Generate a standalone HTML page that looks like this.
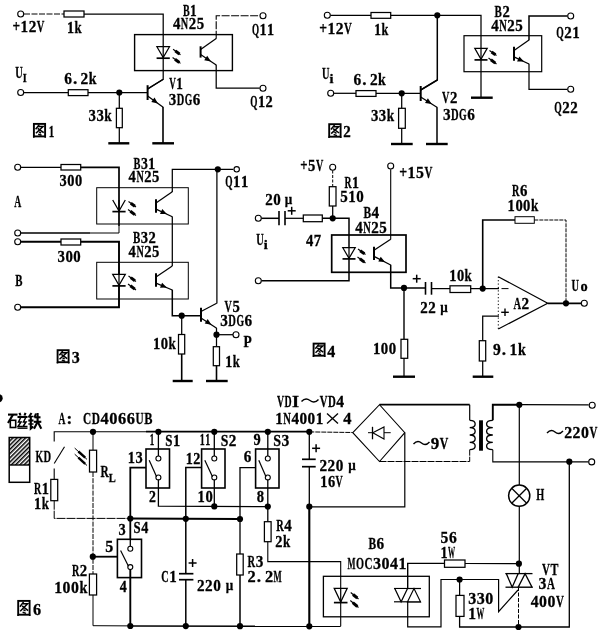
<!DOCTYPE html>
<html><head><meta charset="utf-8"><title>circuit</title>
<style>
html,body{margin:0;padding:0;background:#fff;}
svg{display:block;will-change:transform;}
text{font-family:"Liberation Serif", serif;fill:#000;stroke:#000;stroke-width:0.3px;}
</style></head><body>
<svg width="600" height="635" viewBox="0 0 600 635">
<rect width="600" height="635" fill="#fff"/>
<circle cx="20.7" cy="14.0" r="3.0" fill="#fff" stroke="#000" stroke-width="1.1"/>
<polyline points="24.0,14.0 64.0,14.0" fill="none" stroke="#000" stroke-width="1.0" stroke-dasharray="6 1.5"/>
<polyline points="84.0,14.0 163.2,14.0 163.2,79.3 147.6,88.8" fill="none" stroke="#000" stroke-width="1.25" />
<rect x="64.0" y="11.0" width="20.0" height="6.0" fill="#fff" stroke="#000" stroke-width="1.25"/>
<rect x="134.6" y="34.6" width="97.8" height="36.0" fill="none" stroke="#000" stroke-width="1.4"/>
<polygon points="156.9,46.7 169.5,46.7 163.2,57.6" fill="#fff" stroke="#000" stroke-width="1.25"/>
<polyline points="163.2,46.7 163.2,57.6" fill="none" stroke="#000" stroke-width="1.25" />
<polyline points="156.6,58.2 169.8,58.2" fill="none" stroke="#000" stroke-width="1.7" />
<polyline points="173.1,49.3 180.5,54.8" fill="none" stroke="#000" stroke-width="1.1" />
<polyline points="175.3,50.9 179.4,54.0" fill="none" stroke="#000" stroke-width="3.0" />
<polyline points="172.6,57.5 180.5,63.4" fill="none" stroke="#000" stroke-width="1.1" />
<polyline points="175.0,59.3 179.3,62.5" fill="none" stroke="#000" stroke-width="3.0" />
<polyline points="200.6,46.3 200.6,57.6" fill="none" stroke="#000" stroke-width="2.0" />
<polyline points="200.6,49.4 216.2,38.6" fill="none" stroke="#000" stroke-width="1.25" />
<polyline points="200.6,54.5 216.2,64.9" fill="none" stroke="#000" stroke-width="1.25" />
<polygon points="210.9,61.4 204.2,60.2 207.2,55.7" fill="#000" stroke="#000" stroke-width="0"/>
<polyline points="216.2,38.8 216.2,15.7 259.7,15.7" fill="none" stroke="#000" stroke-width="1.1" stroke-dasharray="8 1.5"/>
<circle cx="263.0" cy="15.7" r="3.0" fill="#fff" stroke="#000" stroke-width="1.1"/>
<polyline points="216.2,64.7 216.2,88.2 259.7,88.2" fill="none" stroke="#000" stroke-width="1.25" />
<circle cx="263.0" cy="88.2" r="3.0" fill="#fff" stroke="#000" stroke-width="1.1"/>
<polyline points="147.6,85.2 147.6,100.0" fill="none" stroke="#000" stroke-width="2.0" />
<polyline points="147.6,89.2 163.2,79.3" fill="none" stroke="#000" stroke-width="1.25" />
<polyline points="147.6,96.0 163.2,107.3" fill="none" stroke="#000" stroke-width="1.25" />
<polygon points="157.9,103.5 151.3,102.0 154.5,97.6" fill="#000" stroke="#000" stroke-width="0"/>
<polyline points="163.0,107.0 163.0,143.3" fill="none" stroke="#000" stroke-width="1.6" />
<polyline points="152.3,143.3 174.0,143.3" fill="none" stroke="#000" stroke-width="2.4" />
<circle cx="20.7" cy="92.5" r="3.0" fill="#fff" stroke="#000" stroke-width="1.1"/>
<polyline points="24.0,92.5 68.3,92.5" fill="none" stroke="#000" stroke-width="1.25" />
<polyline points="88.0,92.5 147.6,92.5" fill="none" stroke="#000" stroke-width="1.25" />
<rect x="68.3" y="89.7" width="19.7" height="5.9" fill="#fff" stroke="#000" stroke-width="1.25"/>
<circle cx="119.3" cy="92.5" r="3.1" fill="#000"/>
<polyline points="119.3,92.5 119.3,108.3" fill="none" stroke="#000" stroke-width="1.25" />
<rect x="116.4" y="108.3" width="5.9" height="19.4" fill="#fff" stroke="#000" stroke-width="1.25"/>
<polyline points="119.3,127.7 119.3,143.3" fill="none" stroke="#000" stroke-width="1.25" />
<polyline points="108.3,143.3 129.3,143.3" fill="none" stroke="#000" stroke-width="2.4" />
<text x="12.6" y="32.3" font-size="17.2" font-weight="bold" textLength="7.6" lengthAdjust="spacingAndGlyphs" >+</text>
<text x="20.6" y="32.3" font-size="17.2" font-weight="bold" textLength="7.6" lengthAdjust="spacingAndGlyphs" >1</text>
<text x="28.7" y="32.3" font-size="17.2" font-weight="bold" textLength="7.6" lengthAdjust="spacingAndGlyphs" >2</text>
<text x="36.7" y="32.3" font-size="17.2" font-weight="bold" textLength="7.6" lengthAdjust="spacingAndGlyphs" >V</text>
<text x="67.0" y="33.3" font-size="17.2" font-weight="bold" textLength="7.1" lengthAdjust="spacingAndGlyphs" >1</text>
<text x="74.6" y="33.3" font-size="17.2" font-weight="bold" textLength="7.1" lengthAdjust="spacingAndGlyphs" >k</text>
<text x="182.9" y="16.0" font-size="17.2" font-weight="bold" textLength="6.7" lengthAdjust="spacingAndGlyphs" >B</text>
<text x="190.1" y="16.0" font-size="17.2" font-weight="bold" textLength="6.7" lengthAdjust="spacingAndGlyphs" >1</text>
<text x="172.9" y="29.3" font-size="17.2" font-weight="bold" textLength="7.4" lengthAdjust="spacingAndGlyphs" >4</text>
<text x="180.8" y="29.3" font-size="17.2" font-weight="bold" textLength="7.4" lengthAdjust="spacingAndGlyphs" >N</text>
<text x="188.8" y="29.3" font-size="17.2" font-weight="bold" textLength="7.4" lengthAdjust="spacingAndGlyphs" >2</text>
<text x="196.7" y="29.3" font-size="17.2" font-weight="bold" textLength="7.4" lengthAdjust="spacingAndGlyphs" >5</text>
<text x="251.9" y="35.0" font-size="17.2" font-weight="bold" textLength="7.1" lengthAdjust="spacingAndGlyphs" >Q</text>
<text x="259.6" y="35.0" font-size="17.2" font-weight="bold" textLength="7.1" lengthAdjust="spacingAndGlyphs" >1</text>
<text x="267.1" y="35.0" font-size="17.2" font-weight="bold" textLength="7.1" lengthAdjust="spacingAndGlyphs" >1</text>
<text x="250.2" y="107.3" font-size="17.2" font-weight="bold" textLength="7.2" lengthAdjust="spacingAndGlyphs" >Q</text>
<text x="257.9" y="107.3" font-size="17.2" font-weight="bold" textLength="7.2" lengthAdjust="spacingAndGlyphs" >1</text>
<text x="265.6" y="107.3" font-size="17.2" font-weight="bold" textLength="7.2" lengthAdjust="spacingAndGlyphs" >2</text>
<text x="169.2" y="89.2" font-size="17.2" font-weight="bold" textLength="6.6" lengthAdjust="spacingAndGlyphs" >V</text>
<text x="176.3" y="89.2" font-size="17.2" font-weight="bold" textLength="6.6" lengthAdjust="spacingAndGlyphs" >1</text>
<text x="168.8" y="105.2" font-size="17.2" font-weight="bold" textLength="7.5" lengthAdjust="spacingAndGlyphs" >3</text>
<text x="176.8" y="105.2" font-size="17.2" font-weight="bold" textLength="7.5" lengthAdjust="spacingAndGlyphs" >D</text>
<text x="184.8" y="105.2" font-size="17.2" font-weight="bold" textLength="7.5" lengthAdjust="spacingAndGlyphs" >G</text>
<text x="192.8" y="105.2" font-size="17.2" font-weight="bold" textLength="7.5" lengthAdjust="spacingAndGlyphs" >6</text>
<text x="15.2" y="77.5" font-size="17.2" font-weight="bold" textLength="7.5" lengthAdjust="spacingAndGlyphs" >U</text>
<text x="22.8" y="82.0" font-size="13" font-weight="bold" textLength="4.0" lengthAdjust="spacingAndGlyphs" >I</text>
<text x="64.2" y="84.3" font-size="17.2" font-weight="bold" textLength="7.7" lengthAdjust="spacingAndGlyphs" >6</text>
<text x="73.0" y="84.3" font-size="17.2" font-weight="bold" >.</text>
<text x="80.6" y="84.3" font-size="17.2" font-weight="bold" textLength="7.7" lengthAdjust="spacingAndGlyphs" >2</text>
<text x="88.8" y="84.3" font-size="17.2" font-weight="bold" textLength="7.7" lengthAdjust="spacingAndGlyphs" >k</text>
<text x="88.5" y="120.7" font-size="17.2" font-weight="bold" textLength="7.4" lengthAdjust="spacingAndGlyphs" >3</text>
<text x="96.5" y="120.7" font-size="17.2" font-weight="bold" textLength="7.4" lengthAdjust="spacingAndGlyphs" >3</text>
<text x="104.3" y="120.7" font-size="17.2" font-weight="bold" textLength="7.4" lengthAdjust="spacingAndGlyphs" >k</text>
<rect x="33.9" y="123.9" width="11.2" height="12.5" fill="#fff" stroke="#000" stroke-width="1.9"/>
<polyline points="39.2,124.8 35.6,129.2" fill="none" stroke="#000" stroke-width="1.5" />
<polyline points="38.2,126.5 43.1,126.5 35.9,133.3" fill="none" stroke="#000" stroke-width="1.5" />
<polyline points="37.7,128.3 43.7,132.7" fill="none" stroke="#000" stroke-width="1.5" />
<polyline points="39.0,131.8 41.1,133.0" fill="none" stroke="#000" stroke-width="1.5" />
<polyline points="38.2,134.2 41.6,135.3" fill="none" stroke="#000" stroke-width="1.5" />
<polyline points="33.8,136.3 33.8,137.7" fill="none" stroke="#000" stroke-width="1.6" />
<polyline points="45.2,136.3 45.2,137.7" fill="none" stroke="#000" stroke-width="1.6" />
<text x="48.8" y="136.5" font-size="17.2" font-weight="bold" textLength="5.5" lengthAdjust="spacingAndGlyphs" >1</text>
<circle cx="327.3" cy="15.3" r="3.0" fill="#fff" stroke="#000" stroke-width="1.1"/>
<polyline points="330.5,15.3 371.0,15.3" fill="none" stroke="#000" stroke-width="1.25" />
<polyline points="390.7,15.3 481.0,15.3 481.0,97.7" fill="none" stroke="#000" stroke-width="1.25" />
<rect x="371.0" y="12.5" width="19.7" height="5.8" fill="#fff" stroke="#000" stroke-width="1.25"/>
<circle cx="437.3" cy="15.3" r="3.1" fill="#000"/>
<polyline points="471.0,97.7 492.7,97.7" fill="none" stroke="#000" stroke-width="2.4" />
<polyline points="437.3,15.3 437.3,80.0 420.7,90.0" fill="none" stroke="#000" stroke-width="1.5" />
<rect x="464.0" y="35.7" width="77.7" height="36.0" fill="none" stroke="#000" stroke-width="1.2"/>
<polygon points="474.8,48.3 487.2,48.3 481.0,59.3" fill="#fff" stroke="#000" stroke-width="1.25"/>
<polyline points="481.0,48.3 481.0,59.3" fill="none" stroke="#000" stroke-width="1.25" />
<polyline points="474.5,59.9 487.5,59.9" fill="none" stroke="#000" stroke-width="1.7" />
<polyline points="489.5,50.5 496.5,55.5" fill="none" stroke="#000" stroke-width="1.1" />
<polyline points="491.6,52.0 495.4,54.8" fill="none" stroke="#000" stroke-width="3.0" />
<polyline points="488.5,58.0 496.5,64.0" fill="none" stroke="#000" stroke-width="1.1" />
<polyline points="490.9,59.8 495.3,63.1" fill="none" stroke="#000" stroke-width="3.0" />
<polyline points="514.0,46.7 514.0,60.7" fill="none" stroke="#000" stroke-width="2.0" />
<polyline points="514.0,50.5 529.0,40.0" fill="none" stroke="#000" stroke-width="1.25" />
<polyline points="514.0,56.9 529.0,64.0" fill="none" stroke="#000" stroke-width="1.25" />
<polygon points="523.9,61.6 517.1,61.4 519.4,56.5" fill="#000" stroke="#000" stroke-width="0"/>
<polyline points="529.0,40.2 529.0,16.0 567.4,16.0" fill="none" stroke="#000" stroke-width="1.5" />
<circle cx="570.7" cy="16.0" r="3.0" fill="#fff" stroke="#000" stroke-width="1.1"/>
<polyline points="529.0,63.8 529.0,89.3 567.4,89.3" fill="none" stroke="#000" stroke-width="1.25" />
<circle cx="570.7" cy="89.3" r="3.0" fill="#fff" stroke="#000" stroke-width="1.1"/>
<polyline points="420.7,86.0 420.7,101.0" fill="none" stroke="#000" stroke-width="2.0" />
<polyline points="420.7,90.0 437.3,80.0" fill="none" stroke="#000" stroke-width="1.25" />
<polyline points="420.7,97.0 437.3,107.5" fill="none" stroke="#000" stroke-width="1.25" />
<polygon points="431.7,103.9 425.0,102.9 427.9,98.3" fill="#000" stroke="#000" stroke-width="0"/>
<polyline points="437.0,107.3 437.0,144.0" fill="none" stroke="#000" stroke-width="1.5" />
<polyline points="426.0,144.0 447.7,144.0" fill="none" stroke="#000" stroke-width="2.4" />
<circle cx="330.7" cy="93.3" r="3.0" fill="#fff" stroke="#000" stroke-width="1.1"/>
<polyline points="334.0,93.3 356.0,93.3" fill="none" stroke="#000" stroke-width="1.25" />
<polyline points="376.0,93.3 420.7,93.3" fill="none" stroke="#000" stroke-width="1.25" />
<rect x="356.0" y="90.6" width="20.0" height="5.8" fill="#fff" stroke="#000" stroke-width="1.25"/>
<circle cx="401.7" cy="93.3" r="3.1" fill="#000"/>
<polyline points="401.7,93.3 401.7,108.3" fill="none" stroke="#000" stroke-width="1.25" />
<rect x="398.6" y="108.3" width="6.7" height="20.0" fill="#fff" stroke="#000" stroke-width="1.25"/>
<polyline points="401.7,128.3 401.7,144.0" fill="none" stroke="#000" stroke-width="1.25" />
<polyline points="391.0,144.0 412.7,144.0" fill="none" stroke="#000" stroke-width="2.4" />
<text x="319.2" y="34.0" font-size="17.2" font-weight="bold" textLength="7.8" lengthAdjust="spacingAndGlyphs" >+</text>
<text x="327.5" y="34.0" font-size="17.2" font-weight="bold" textLength="7.8" lengthAdjust="spacingAndGlyphs" >1</text>
<text x="335.8" y="34.0" font-size="17.2" font-weight="bold" textLength="7.8" lengthAdjust="spacingAndGlyphs" >2</text>
<text x="344.0" y="34.0" font-size="17.2" font-weight="bold" textLength="7.8" lengthAdjust="spacingAndGlyphs" >V</text>
<text x="374.2" y="35.0" font-size="17.2" font-weight="bold" textLength="6.8" lengthAdjust="spacingAndGlyphs" >1</text>
<text x="381.5" y="35.0" font-size="17.2" font-weight="bold" textLength="6.8" lengthAdjust="spacingAndGlyphs" >k</text>
<text x="321.9" y="78.5" font-size="17.2" font-weight="bold" textLength="7.5" lengthAdjust="spacingAndGlyphs" >U</text>
<text x="329.4" y="83.0" font-size="13" font-weight="bold" textLength="4.0" lengthAdjust="spacingAndGlyphs" >i</text>
<text x="353.6" y="85.0" font-size="17.2" font-weight="bold" textLength="7.7" lengthAdjust="spacingAndGlyphs" >6</text>
<text x="362.3" y="85.0" font-size="17.2" font-weight="bold" >.</text>
<text x="369.9" y="85.0" font-size="17.2" font-weight="bold" textLength="7.7" lengthAdjust="spacingAndGlyphs" >2</text>
<text x="378.1" y="85.0" font-size="17.2" font-weight="bold" textLength="7.7" lengthAdjust="spacingAndGlyphs" >k</text>
<text x="370.9" y="120.7" font-size="17.2" font-weight="bold" textLength="7.4" lengthAdjust="spacingAndGlyphs" >3</text>
<text x="378.8" y="120.7" font-size="17.2" font-weight="bold" textLength="7.4" lengthAdjust="spacingAndGlyphs" >3</text>
<text x="386.7" y="120.7" font-size="17.2" font-weight="bold" textLength="7.4" lengthAdjust="spacingAndGlyphs" >k</text>
<rect x="329.2" y="124.2" width="11.4" height="12.5" fill="#fff" stroke="#000" stroke-width="1.9"/>
<polyline points="334.6,125.1 330.9,129.5" fill="none" stroke="#000" stroke-width="1.5" />
<polyline points="333.6,126.8 338.6,126.8 331.2,133.6" fill="none" stroke="#000" stroke-width="1.5" />
<polyline points="333.1,128.6 339.1,133.0" fill="none" stroke="#000" stroke-width="1.5" />
<polyline points="334.4,132.1 336.5,133.3" fill="none" stroke="#000" stroke-width="1.5" />
<polyline points="333.6,134.5 337.0,135.6" fill="none" stroke="#000" stroke-width="1.5" />
<polyline points="329.1,136.6 329.1,138.0" fill="none" stroke="#000" stroke-width="1.6" />
<polyline points="340.7,136.6 340.7,138.0" fill="none" stroke="#000" stroke-width="1.6" />
<text x="343.2" y="137.3" font-size="17.2" font-weight="bold" textLength="7.5" lengthAdjust="spacingAndGlyphs" >2</text>
<text x="494.6" y="16.7" font-size="17.2" font-weight="bold" textLength="7.3" lengthAdjust="spacingAndGlyphs" >B</text>
<text x="502.4" y="16.7" font-size="17.2" font-weight="bold" textLength="7.3" lengthAdjust="spacingAndGlyphs" >2</text>
<text x="491.2" y="30.7" font-size="17.2" font-weight="bold" textLength="7.5" lengthAdjust="spacingAndGlyphs" >4</text>
<text x="499.2" y="30.7" font-size="17.2" font-weight="bold" textLength="7.5" lengthAdjust="spacingAndGlyphs" >N</text>
<text x="507.2" y="30.7" font-size="17.2" font-weight="bold" textLength="7.5" lengthAdjust="spacingAndGlyphs" >2</text>
<text x="515.2" y="30.7" font-size="17.2" font-weight="bold" textLength="7.5" lengthAdjust="spacingAndGlyphs" >5</text>
<text x="556.2" y="38.3" font-size="17.2" font-weight="bold" textLength="7.5" lengthAdjust="spacingAndGlyphs" >Q</text>
<text x="564.2" y="38.3" font-size="17.2" font-weight="bold" textLength="7.5" lengthAdjust="spacingAndGlyphs" >2</text>
<text x="572.2" y="38.3" font-size="17.2" font-weight="bold" textLength="7.5" lengthAdjust="spacingAndGlyphs" >1</text>
<text x="554.2" y="113.0" font-size="17.2" font-weight="bold" textLength="7.5" lengthAdjust="spacingAndGlyphs" >Q</text>
<text x="562.2" y="113.0" font-size="17.2" font-weight="bold" textLength="7.5" lengthAdjust="spacingAndGlyphs" >2</text>
<text x="570.2" y="113.0" font-size="17.2" font-weight="bold" textLength="7.5" lengthAdjust="spacingAndGlyphs" >2</text>
<text x="441.9" y="102.7" font-size="17.2" font-weight="bold" textLength="7.4" lengthAdjust="spacingAndGlyphs" >V</text>
<text x="449.9" y="102.7" font-size="17.2" font-weight="bold" textLength="7.4" lengthAdjust="spacingAndGlyphs" >2</text>
<text x="442.9" y="119.5" font-size="17.2" font-weight="bold" textLength="7.6" lengthAdjust="spacingAndGlyphs" >3</text>
<text x="451.0" y="119.5" font-size="17.2" font-weight="bold" textLength="7.6" lengthAdjust="spacingAndGlyphs" >D</text>
<text x="459.1" y="119.5" font-size="17.2" font-weight="bold" textLength="7.6" lengthAdjust="spacingAndGlyphs" >G</text>
<text x="467.2" y="119.5" font-size="17.2" font-weight="bold" textLength="7.6" lengthAdjust="spacingAndGlyphs" >6</text>
<circle cx="17.7" cy="167.3" r="3.0" fill="#fff" stroke="#000" stroke-width="1.1"/>
<polyline points="21.0,167.3 61.0,167.3" fill="none" stroke="#000" stroke-width="1.25" />
<polyline points="80.7,167.3 119.0,167.3 119.0,226.0" fill="none" stroke="#000" stroke-width="1.7" />
<polyline points="119.0,226.0 119.0,233.0 90.0,233.0" fill="none" stroke="#000" stroke-width="1.0" />
<polyline points="90.0,233.0 21.0,233.0" fill="none" stroke="#000" stroke-width="1.5" />
<rect x="61.0" y="164.5" width="19.7" height="5.5" fill="#fff" stroke="#000" stroke-width="1.25"/>
<circle cx="17.7" cy="233.0" r="3.0" fill="#fff" stroke="#000" stroke-width="1.1"/>
<rect x="96.7" y="187.7" width="91.6" height="36.3" fill="none" stroke="#000" stroke-width="1.0"/>
<polyline points="112.7,200.0 119.0,211.0 125.3,200.0" fill="none" stroke="#000" stroke-width="1.25" />
<polyline points="119.0,200.0 119.0,211.0" fill="none" stroke="#000" stroke-width="1.25" />
<polyline points="112.4,211.6 125.6,211.6" fill="none" stroke="#000" stroke-width="1.7" />
<polyline points="128.5,201.5 136.0,207.0" fill="none" stroke="#000" stroke-width="1.1" />
<polyline points="130.8,203.2 134.9,206.2" fill="none" stroke="#000" stroke-width="3.0" />
<polyline points="128.0,209.5 136.0,215.5" fill="none" stroke="#000" stroke-width="1.1" />
<polyline points="130.4,211.3 134.8,214.6" fill="none" stroke="#000" stroke-width="3.0" />
<polyline points="156.0,199.3 156.0,212.7" fill="none" stroke="#000" stroke-width="2.0" />
<polyline points="156.0,202.9 172.3,191.7" fill="none" stroke="#000" stroke-width="1.25" />
<polyline points="156.0,209.1 172.3,216.7" fill="none" stroke="#000" stroke-width="1.25" />
<polygon points="166.8,214.1 160.0,213.9 162.3,209.0" fill="#000" stroke="#000" stroke-width="0"/>
<polyline points="172.3,191.9 172.3,169.3 233.4,169.3" fill="none" stroke="#000" stroke-width="1.25" />
<circle cx="217.8" cy="169.3" r="3.1" fill="#000"/>
<circle cx="236.7" cy="169.3" r="2.7" fill="#fff" stroke="#000" stroke-width="1.1"/>
<polyline points="172.3,216.5 172.3,266.0" fill="none" stroke="#000" stroke-width="1.25" />
<circle cx="17.7" cy="241.7" r="3.0" fill="#fff" stroke="#000" stroke-width="1.1"/>
<polyline points="21.0,241.7 61.0,241.7" fill="none" stroke="#000" stroke-width="1.9" />
<polyline points="80.7,241.7 119.0,241.7 119.0,307.3 21.0,307.3" fill="none" stroke="#000" stroke-width="1.9" />
<rect x="61.0" y="239.0" width="19.7" height="6.0" fill="#fff" stroke="#000" stroke-width="1.25"/>
<circle cx="17.7" cy="307.3" r="3.0" fill="#fff" stroke="#000" stroke-width="1.1"/>
<rect x="96.7" y="262.3" width="91.6" height="36.7" fill="none" stroke="#000" stroke-width="1.0"/>
<polygon points="112.7,274.3 125.3,274.3 119.0,285.3" fill="#fff" stroke="#000" stroke-width="1.25"/>
<polyline points="119.0,274.3 119.0,285.3" fill="none" stroke="#000" stroke-width="1.25" />
<polyline points="112.4,285.9 125.6,285.9" fill="none" stroke="#000" stroke-width="1.7" />
<polyline points="128.5,276.0 136.0,281.5" fill="none" stroke="#000" stroke-width="1.1" />
<polyline points="130.8,277.6 134.9,280.7" fill="none" stroke="#000" stroke-width="3.0" />
<polyline points="128.0,284.0 136.0,290.0" fill="none" stroke="#000" stroke-width="1.1" />
<polyline points="130.4,285.8 134.8,289.1" fill="none" stroke="#000" stroke-width="3.0" />
<polyline points="156.0,273.3 156.0,286.7" fill="none" stroke="#000" stroke-width="2.0" />
<polyline points="156.0,276.9 172.3,266.0" fill="none" stroke="#000" stroke-width="1.25" />
<polyline points="156.0,283.1 172.3,290.0" fill="none" stroke="#000" stroke-width="1.25" />
<polygon points="166.8,287.6 160.0,287.7 162.1,282.7" fill="#000" stroke="#000" stroke-width="0"/>
<polyline points="172.3,289.8 172.3,315.7 201.0,315.7" fill="none" stroke="#000" stroke-width="1.5" />
<circle cx="181.7" cy="315.7" r="3.1" fill="#000"/>
<polyline points="181.7,315.7 181.7,334.5" fill="none" stroke="#000" stroke-width="1.25" />
<rect x="178.5" y="334.5" width="6.2" height="19.5" fill="#fff" stroke="#000" stroke-width="1.25"/>
<polyline points="181.7,354.0 181.7,381.0" fill="none" stroke="#000" stroke-width="1.6" />
<polyline points="172.7,381.0 192.7,381.0" fill="none" stroke="#000" stroke-width="2.4" />
<polyline points="201.0,307.7 201.0,321.7" fill="none" stroke="#000" stroke-width="2.0" />
<polyline points="201.0,311.5 216.7,303.3" fill="none" stroke="#000" stroke-width="1.25" />
<polyline points="201.0,317.9 216.7,328.3" fill="none" stroke="#000" stroke-width="1.25" />
<polygon points="211.4,324.8 204.7,323.6 207.7,319.1" fill="#000" stroke="#000" stroke-width="0"/>
<polyline points="216.9,303.5 216.9,169.3" fill="none" stroke="#000" stroke-width="1.25" />
<polyline points="216.5,328.0 216.5,346.7" fill="none" stroke="#000" stroke-width="1.25" />
<circle cx="216.5" cy="334.7" r="3.1" fill="#000"/>
<polyline points="216.5,334.7 233.0,334.7" fill="none" stroke="#000" stroke-width="1.25" />
<circle cx="236.0" cy="334.7" r="3.0" fill="#fff" stroke="#000" stroke-width="1.1"/>
<rect x="213.3" y="346.7" width="6.2" height="19.0" fill="#fff" stroke="#000" stroke-width="1.25"/>
<polyline points="216.5,365.7 216.5,381.0" fill="none" stroke="#000" stroke-width="1.6" />
<polyline points="206.0,381.0 227.7,381.0" fill="none" stroke="#000" stroke-width="2.4" />
<text x="59.5" y="185.7" font-size="17.2" font-weight="bold" textLength="7.2" lengthAdjust="spacingAndGlyphs" >3</text>
<text x="67.3" y="185.7" font-size="17.2" font-weight="bold" textLength="7.2" lengthAdjust="spacingAndGlyphs" >0</text>
<text x="75.0" y="185.7" font-size="17.2" font-weight="bold" textLength="7.2" lengthAdjust="spacingAndGlyphs" >0</text>
<text x="133.6" y="168.5" font-size="17.2" font-weight="bold" textLength="6.9" lengthAdjust="spacingAndGlyphs" >B</text>
<text x="141.0" y="168.5" font-size="17.2" font-weight="bold" textLength="6.9" lengthAdjust="spacingAndGlyphs" >3</text>
<text x="148.3" y="168.5" font-size="17.2" font-weight="bold" textLength="6.9" lengthAdjust="spacingAndGlyphs" >1</text>
<text x="128.6" y="181.7" font-size="17.2" font-weight="bold" textLength="7.3" lengthAdjust="spacingAndGlyphs" >4</text>
<text x="136.4" y="181.7" font-size="17.2" font-weight="bold" textLength="7.3" lengthAdjust="spacingAndGlyphs" >N</text>
<text x="144.2" y="181.7" font-size="17.2" font-weight="bold" textLength="7.3" lengthAdjust="spacingAndGlyphs" >2</text>
<text x="151.9" y="181.7" font-size="17.2" font-weight="bold" textLength="7.3" lengthAdjust="spacingAndGlyphs" >5</text>
<text x="14.2" y="206.7" font-size="17.2" font-weight="bold" textLength="7.0" lengthAdjust="spacingAndGlyphs" >A</text>
<text x="225.2" y="187.3" font-size="17.2" font-weight="bold" textLength="7.3" lengthAdjust="spacingAndGlyphs" >Q</text>
<text x="233.1" y="187.3" font-size="17.2" font-weight="bold" textLength="7.3" lengthAdjust="spacingAndGlyphs" >1</text>
<text x="240.9" y="187.3" font-size="17.2" font-weight="bold" textLength="7.3" lengthAdjust="spacingAndGlyphs" >1</text>
<text x="132.9" y="243.3" font-size="17.2" font-weight="bold" textLength="7.3" lengthAdjust="spacingAndGlyphs" >B</text>
<text x="140.7" y="243.3" font-size="17.2" font-weight="bold" textLength="7.3" lengthAdjust="spacingAndGlyphs" >3</text>
<text x="148.5" y="243.3" font-size="17.2" font-weight="bold" textLength="7.3" lengthAdjust="spacingAndGlyphs" >2</text>
<text x="128.6" y="257.3" font-size="17.2" font-weight="bold" textLength="7.3" lengthAdjust="spacingAndGlyphs" >4</text>
<text x="136.4" y="257.3" font-size="17.2" font-weight="bold" textLength="7.3" lengthAdjust="spacingAndGlyphs" >N</text>
<text x="144.2" y="257.3" font-size="17.2" font-weight="bold" textLength="7.3" lengthAdjust="spacingAndGlyphs" >2</text>
<text x="151.9" y="257.3" font-size="17.2" font-weight="bold" textLength="7.3" lengthAdjust="spacingAndGlyphs" >5</text>
<text x="57.5" y="262.3" font-size="17.2" font-weight="bold" textLength="7.4" lengthAdjust="spacingAndGlyphs" >3</text>
<text x="65.5" y="262.3" font-size="17.2" font-weight="bold" textLength="7.4" lengthAdjust="spacingAndGlyphs" >0</text>
<text x="73.3" y="262.3" font-size="17.2" font-weight="bold" textLength="7.4" lengthAdjust="spacingAndGlyphs" >0</text>
<text x="15.2" y="285.7" font-size="17.2" font-weight="bold" textLength="7.2" lengthAdjust="spacingAndGlyphs" >B</text>
<text x="152.9" y="349.0" font-size="17.2" font-weight="bold" textLength="7.3" lengthAdjust="spacingAndGlyphs" >1</text>
<text x="160.7" y="349.0" font-size="17.2" font-weight="bold" textLength="7.3" lengthAdjust="spacingAndGlyphs" >0</text>
<text x="168.5" y="349.0" font-size="17.2" font-weight="bold" textLength="7.3" lengthAdjust="spacingAndGlyphs" >k</text>
<rect x="57.6" y="350.2" width="11.0" height="12.0" fill="#fff" stroke="#000" stroke-width="1.9"/>
<polyline points="62.8,351.0 59.3,355.3" fill="none" stroke="#000" stroke-width="1.5" />
<polyline points="61.8,352.7 66.7,352.7 59.5,359.2" fill="none" stroke="#000" stroke-width="1.5" />
<polyline points="61.3,354.4 67.2,358.7" fill="none" stroke="#000" stroke-width="1.5" />
<polyline points="62.6,357.8 64.6,359.0" fill="none" stroke="#000" stroke-width="1.5" />
<polyline points="61.8,360.1 65.1,361.2" fill="none" stroke="#000" stroke-width="1.5" />
<polyline points="57.5,362.1 57.5,363.5" fill="none" stroke="#000" stroke-width="1.6" />
<polyline points="68.7,362.1 68.7,363.5" fill="none" stroke="#000" stroke-width="1.6" />
<text x="71.8" y="363.0" font-size="17.2" font-weight="bold" textLength="8.0" lengthAdjust="spacingAndGlyphs" >3</text>
<text x="224.6" y="312.3" font-size="17.2" font-weight="bold" textLength="7.3" lengthAdjust="spacingAndGlyphs" >V</text>
<text x="232.4" y="312.3" font-size="17.2" font-weight="bold" textLength="7.3" lengthAdjust="spacingAndGlyphs" >5</text>
<text x="220.2" y="325.7" font-size="17.2" font-weight="bold" textLength="7.6" lengthAdjust="spacingAndGlyphs" >3</text>
<text x="228.3" y="325.7" font-size="17.2" font-weight="bold" textLength="7.6" lengthAdjust="spacingAndGlyphs" >D</text>
<text x="236.4" y="325.7" font-size="17.2" font-weight="bold" textLength="7.6" lengthAdjust="spacingAndGlyphs" >G</text>
<text x="244.5" y="325.7" font-size="17.2" font-weight="bold" textLength="7.6" lengthAdjust="spacingAndGlyphs" >6</text>
<text x="243.6" y="346.7" font-size="17.2" font-weight="bold" textLength="8.2" lengthAdjust="spacingAndGlyphs" >P</text>
<text x="225.2" y="366.7" font-size="17.2" font-weight="bold" textLength="7.0" lengthAdjust="spacingAndGlyphs" >1</text>
<text x="232.8" y="366.7" font-size="17.2" font-weight="bold" textLength="7.0" lengthAdjust="spacingAndGlyphs" >k</text>
<circle cx="332.7" cy="167.3" r="3.0" fill="#fff" stroke="#000" stroke-width="1.1"/>
<polyline points="332.7,170.5 332.7,186.7" fill="none" stroke="#000" stroke-width="1.0" stroke-dasharray="3 1.5"/>
<rect x="329.3" y="186.7" width="6.7" height="19.3" fill="#fff" stroke="#000" stroke-width="1.25"/>
<polyline points="332.7,206.0 332.7,218.3" fill="none" stroke="#000" stroke-width="1.25" />
<circle cx="258.3" cy="218.3" r="3.0" fill="#fff" stroke="#000" stroke-width="1.1"/>
<polyline points="261.5,218.3 279.0,218.3" fill="none" stroke="#000" stroke-width="1.5" />
<polyline points="279.0,211.0 279.0,225.3" fill="none" stroke="#000" stroke-width="1.6" />
<polyline points="285.0,211.0 285.0,225.3" fill="none" stroke="#000" stroke-width="1.6" />
<polyline points="285.0,218.3 303.3,218.3" fill="none" stroke="#000" stroke-width="1.25" />
<rect x="303.3" y="215.0" width="19.0" height="6.7" fill="#fff" stroke="#000" stroke-width="1.25"/>
<polyline points="322.3,218.3 349.0,218.3 349.0,280.7 261.5,280.7" fill="none" stroke="#000" stroke-width="1.5" />
<circle cx="332.7" cy="218.3" r="3.1" fill="#000"/>
<circle cx="258.3" cy="280.7" r="3.0" fill="#fff" stroke="#000" stroke-width="1.1"/>
<rect x="331.7" y="235.0" width="74.3" height="37.3" fill="none" stroke="#000" stroke-width="1.7"/>
<polygon points="342.8,247.7 355.2,247.7 349.0,258.3" fill="#fff" stroke="#000" stroke-width="1.25"/>
<polyline points="349.0,247.7 349.0,258.3" fill="none" stroke="#000" stroke-width="1.25" />
<polyline points="342.5,258.9 355.5,258.9" fill="none" stroke="#000" stroke-width="1.7" />
<polyline points="358.0,249.0 365.5,254.5" fill="none" stroke="#000" stroke-width="1.1" />
<polyline points="360.2,250.7 364.4,253.7" fill="none" stroke="#000" stroke-width="3.0" />
<polyline points="357.5,257.0 365.5,263.0" fill="none" stroke="#000" stroke-width="1.1" />
<polyline points="359.9,258.8 364.3,262.1" fill="none" stroke="#000" stroke-width="3.0" />
<polyline points="374.0,246.7 374.0,260.0" fill="none" stroke="#000" stroke-width="2.0" />
<polyline points="374.0,250.3 390.7,239.3" fill="none" stroke="#000" stroke-width="1.25" />
<polyline points="374.0,256.4 390.7,265.0" fill="none" stroke="#000" stroke-width="1.25" />
<polygon points="385.0,262.1 378.3,261.6 380.7,256.8" fill="#000" stroke="#000" stroke-width="0"/>
<polyline points="390.7,239.5 390.7,169.3" fill="none" stroke="#000" stroke-width="1.1" />
<circle cx="390.7" cy="166.0" r="3.0" fill="#fff" stroke="#000" stroke-width="1.1"/>
<polyline points="390.7,264.8 390.7,287.9 425.5,287.9" fill="none" stroke="#000" stroke-width="1.5" />
<circle cx="404.0" cy="287.9" r="3.1" fill="#000"/>
<polyline points="425.5,282.0 425.5,294.7" fill="none" stroke="#000" stroke-width="1.6" />
<polyline points="431.5,282.0 431.5,294.7" fill="none" stroke="#000" stroke-width="1.6" />
<polyline points="431.5,288.6 450.0,288.6" fill="none" stroke="#000" stroke-width="1.25" />
<rect x="450.0" y="285.8" width="20.7" height="6.7" fill="#fff" stroke="#000" stroke-width="1.25"/>
<polyline points="470.7,288.6 499.0,288.6" fill="none" stroke="#000" stroke-width="1.25" />
<circle cx="482.7" cy="288.6" r="3.1" fill="#000"/>
<polyline points="482.7,288.6 482.7,220.0 515.0,220.0" fill="none" stroke="#000" stroke-width="1.6" />
<rect x="515.0" y="216.7" width="19.3" height="6.6" fill="#fff" stroke="#000" stroke-width="1.0"/>
<polyline points="534.3,220.0 566.0,220.0 566.0,303.3" fill="none" stroke="#000" stroke-width="1.0" stroke-dasharray="4 1"/>
<circle cx="566.0" cy="303.3" r="3.1" fill="#000"/>
<polyline points="498.3,276.7 547.7,303.3 498.3,329.0" fill="none" stroke="#000" stroke-width="1.2" />
<polyline points="498.3,276.7 498.3,329.0" fill="none" stroke="#000" stroke-width="1.0" stroke-dasharray="1.2 2.2"/>
<polyline points="547.7,303.3 581.0,303.3" fill="none" stroke="#000" stroke-width="1.7" />
<circle cx="584.3" cy="303.3" r="3.0" fill="#fff" stroke="#000" stroke-width="1.1"/>
<polyline points="501.5,288.6 508.5,288.6" fill="none" stroke="#000" stroke-width="1.0" />
<polyline points="501.2,312.3 508.8,312.3" fill="none" stroke="#000" stroke-width="1.4" />
<polyline points="505.0,308.5 505.0,316.1" fill="none" stroke="#000" stroke-width="1.4" />
<polyline points="499.0,316.0 482.7,316.0 482.7,340.7" fill="none" stroke="#000" stroke-width="1.25" />
<rect x="479.3" y="340.7" width="6.4" height="20.3" fill="#fff" stroke="#000" stroke-width="1.25"/>
<polyline points="482.7,361.0 482.7,376.7" fill="none" stroke="#000" stroke-width="1.25" />
<polyline points="472.7,376.7 493.3,376.7" fill="none" stroke="#000" stroke-width="2.4" />
<polyline points="404.0,287.9 404.0,339.3" fill="none" stroke="#000" stroke-width="1.4" />
<rect x="401.0" y="339.3" width="6.7" height="19.0" fill="#fff" stroke="#000" stroke-width="1.25"/>
<polyline points="404.0,358.3 404.0,376.7" fill="none" stroke="#000" stroke-width="1.25" />
<polyline points="393.0,376.7 415.0,376.7" fill="none" stroke="#000" stroke-width="2.4" />
<polyline points="287.7,210.8 295.7,210.8" fill="none" stroke="#000" stroke-width="1.5" />
<polyline points="291.7,206.8 291.7,214.8" fill="none" stroke="#000" stroke-width="1.5" />
<polyline points="412.7,278.7 420.7,278.7" fill="none" stroke="#000" stroke-width="1.5" />
<polyline points="416.7,274.7 416.7,282.7" fill="none" stroke="#000" stroke-width="1.5" />
<text x="300.2" y="171.0" font-size="17.2" font-weight="bold" textLength="7.3" lengthAdjust="spacingAndGlyphs" >+</text>
<text x="308.1" y="171.0" font-size="17.2" font-weight="bold" textLength="7.3" lengthAdjust="spacingAndGlyphs" >5</text>
<text x="315.9" y="171.0" font-size="17.2" font-weight="bold" textLength="7.3" lengthAdjust="spacingAndGlyphs" >V</text>
<text x="344.6" y="188.3" font-size="17.2" font-weight="bold" textLength="7.0" lengthAdjust="spacingAndGlyphs" >R</text>
<text x="352.1" y="188.3" font-size="17.2" font-weight="bold" textLength="7.0" lengthAdjust="spacingAndGlyphs" >1</text>
<text x="340.2" y="201.7" font-size="17.2" font-weight="bold" textLength="7.5" lengthAdjust="spacingAndGlyphs" >5</text>
<text x="348.2" y="201.7" font-size="17.2" font-weight="bold" textLength="7.5" lengthAdjust="spacingAndGlyphs" >1</text>
<text x="356.2" y="201.7" font-size="17.2" font-weight="bold" textLength="7.5" lengthAdjust="spacingAndGlyphs" >0</text>
<text x="265.2" y="204.5" font-size="17.2" font-weight="bold" textLength="7.5" lengthAdjust="spacingAndGlyphs" >2</text>
<text x="273.2" y="204.5" font-size="17.2" font-weight="bold" textLength="7.5" lengthAdjust="spacingAndGlyphs" >0</text>
<text x="284.8" y="203.5" font-size="14.5" font-weight="bold" textLength="7.5" lengthAdjust="spacingAndGlyphs" >µ</text>
<text x="363.6" y="218.3" font-size="17.2" font-weight="bold" textLength="7.6" lengthAdjust="spacingAndGlyphs" >B</text>
<text x="371.6" y="218.3" font-size="17.2" font-weight="bold" textLength="7.6" lengthAdjust="spacingAndGlyphs" >4</text>
<text x="355.2" y="232.7" font-size="17.2" font-weight="bold" textLength="7.5" lengthAdjust="spacingAndGlyphs" >4</text>
<text x="363.2" y="232.7" font-size="17.2" font-weight="bold" textLength="7.5" lengthAdjust="spacingAndGlyphs" >N</text>
<text x="371.2" y="232.7" font-size="17.2" font-weight="bold" textLength="7.5" lengthAdjust="spacingAndGlyphs" >2</text>
<text x="379.2" y="232.7" font-size="17.2" font-weight="bold" textLength="7.5" lengthAdjust="spacingAndGlyphs" >5</text>
<text x="305.9" y="245.7" font-size="17.2" font-weight="bold" textLength="7.3" lengthAdjust="spacingAndGlyphs" >4</text>
<text x="313.8" y="245.7" font-size="17.2" font-weight="bold" textLength="7.3" lengthAdjust="spacingAndGlyphs" >7</text>
<text x="256.2" y="244.5" font-size="17.2" font-weight="bold" textLength="7.5" lengthAdjust="spacingAndGlyphs" >U</text>
<text x="263.8" y="249.0" font-size="13" font-weight="bold" textLength="4.0" lengthAdjust="spacingAndGlyphs" >i</text>
<text x="399.2" y="178.0" font-size="17.2" font-weight="bold" textLength="7.9" lengthAdjust="spacingAndGlyphs" >+</text>
<text x="407.6" y="178.0" font-size="17.2" font-weight="bold" textLength="7.9" lengthAdjust="spacingAndGlyphs" >1</text>
<text x="416.0" y="178.0" font-size="17.2" font-weight="bold" textLength="7.9" lengthAdjust="spacingAndGlyphs" >5</text>
<text x="424.4" y="178.0" font-size="17.2" font-weight="bold" textLength="7.9" lengthAdjust="spacingAndGlyphs" >V</text>
<text x="420.2" y="313.0" font-size="17.2" font-weight="bold" textLength="7.5" lengthAdjust="spacingAndGlyphs" >2</text>
<text x="428.2" y="313.0" font-size="17.2" font-weight="bold" textLength="7.5" lengthAdjust="spacingAndGlyphs" >2</text>
<text x="440.2" y="312.0" font-size="14.5" font-weight="bold" textLength="7.5" lengthAdjust="spacingAndGlyphs" >µ</text>
<text x="449.2" y="280.7" font-size="17.2" font-weight="bold" textLength="7.2" lengthAdjust="spacingAndGlyphs" >1</text>
<text x="456.9" y="280.7" font-size="17.2" font-weight="bold" textLength="7.2" lengthAdjust="spacingAndGlyphs" >0</text>
<text x="464.6" y="280.7" font-size="17.2" font-weight="bold" textLength="7.2" lengthAdjust="spacingAndGlyphs" >k</text>
<text x="513.5" y="309.0" font-size="17.2" font-weight="bold" textLength="7.6" lengthAdjust="spacingAndGlyphs" >A</text>
<text x="521.6" y="309.0" font-size="17.2" font-weight="bold" textLength="7.6" lengthAdjust="spacingAndGlyphs" >2</text>
<text x="492.9" y="355.0" font-size="17.2" font-weight="bold" textLength="7.8" lengthAdjust="spacingAndGlyphs" >9</text>
<text x="501.8" y="355.0" font-size="17.2" font-weight="bold" >.</text>
<text x="509.6" y="355.0" font-size="17.2" font-weight="bold" textLength="7.8" lengthAdjust="spacingAndGlyphs" >1</text>
<text x="517.9" y="355.0" font-size="17.2" font-weight="bold" textLength="7.8" lengthAdjust="spacingAndGlyphs" >k</text>
<text x="571.5" y="290.7" font-size="17.2" font-weight="bold" textLength="7.5" lengthAdjust="spacingAndGlyphs" >U</text>
<text x="580.5" y="290.7" font-size="15" font-weight="bold" textLength="7.2" lengthAdjust="spacingAndGlyphs" >o</text>
<text x="511.9" y="196.0" font-size="17.2" font-weight="bold" textLength="7.4" lengthAdjust="spacingAndGlyphs" >R</text>
<text x="519.9" y="196.0" font-size="17.2" font-weight="bold" textLength="7.4" lengthAdjust="spacingAndGlyphs" >6</text>
<text x="507.6" y="210.5" font-size="17.2" font-weight="bold" textLength="7.3" lengthAdjust="spacingAndGlyphs" >1</text>
<text x="515.4" y="210.5" font-size="17.2" font-weight="bold" textLength="7.3" lengthAdjust="spacingAndGlyphs" >0</text>
<text x="523.1" y="210.5" font-size="17.2" font-weight="bold" textLength="7.3" lengthAdjust="spacingAndGlyphs" >0</text>
<text x="531.0" y="210.5" font-size="17.2" font-weight="bold" textLength="7.3" lengthAdjust="spacingAndGlyphs" >k</text>
<text x="372.9" y="354.0" font-size="17.2" font-weight="bold" textLength="7.4" lengthAdjust="spacingAndGlyphs" >1</text>
<text x="380.8" y="354.0" font-size="17.2" font-weight="bold" textLength="7.4" lengthAdjust="spacingAndGlyphs" >0</text>
<text x="388.7" y="354.0" font-size="17.2" font-weight="bold" textLength="7.4" lengthAdjust="spacingAndGlyphs" >0</text>
<rect x="313.6" y="343.6" width="11.0" height="12.1" fill="#fff" stroke="#000" stroke-width="1.9"/>
<polyline points="318.8,344.4 315.3,348.7" fill="none" stroke="#000" stroke-width="1.5" />
<polyline points="317.8,346.1 322.7,346.1 315.5,352.7" fill="none" stroke="#000" stroke-width="1.5" />
<polyline points="317.3,347.8 323.2,352.1" fill="none" stroke="#000" stroke-width="1.5" />
<polyline points="318.6,351.3 320.6,352.4" fill="none" stroke="#000" stroke-width="1.5" />
<polyline points="317.8,353.6 321.1,354.7" fill="none" stroke="#000" stroke-width="1.5" />
<polyline points="313.5,355.6 313.5,357.0" fill="none" stroke="#000" stroke-width="1.6" />
<polyline points="324.7,355.6 324.7,357.0" fill="none" stroke="#000" stroke-width="1.6" />
<text x="327.2" y="356.5" font-size="17.2" font-weight="bold" textLength="8.0" lengthAdjust="spacingAndGlyphs" >4</text>
<circle cx="-1.5" cy="398.3" r="4.2" fill="#000"/>
<polyline points="54.2,441.5 54.2,431.7 146.0,431.7" fill="none" stroke="#000" stroke-width="1.1" />
<polyline points="146.0,431.7 309.3,431.7" fill="none" stroke="#000" stroke-width="1.7" />
<polyline points="309.3,431.9 352.8,432.5" fill="none" stroke="#000" stroke-width="1.0" stroke-dasharray="5 1"/>
<circle cx="93.0" cy="431.8" r="3.1" fill="#000"/>
<circle cx="158.4" cy="431.8" r="3.1" fill="#000"/>
<circle cx="214.3" cy="431.8" r="3.1" fill="#000"/>
<circle cx="267.8" cy="431.8" r="3.1" fill="#000"/>
<circle cx="309.3" cy="431.8" r="3.1" fill="#000"/>
<polyline points="64.5,446.7 54.2,463.5" fill="none" stroke="#000" stroke-width="1.1" />
<polyline points="54.2,468.6 54.2,479.4" fill="none" stroke="#000" stroke-width="1.1" />
<rect x="50.8" y="479.4" width="6.9" height="21.3" fill="#fff" stroke="#000" stroke-width="1.25"/>
<polyline points="54.2,500.7 54.2,518.4 130.3,518.4" fill="none" stroke="#000" stroke-width="1.0" stroke-dasharray="9 1"/>
<polyline points="130.3,518.6 240.0,519.0" fill="none" stroke="#000" stroke-width="2.0" />
<defs><pattern id="h" width="3" height="3" patternUnits="userSpaceOnUse" patternTransform="rotate(-45)"><rect width="3" height="3" fill="#fff"/><rect width="3" height="1.5" fill="#000"/></pattern></defs>
<rect x="9.2" y="437.5" width="20.5" height="27.5" fill="url(#h)"/>
<rect x="9.2" y="437.5" width="20.5" height="44.8" fill="none" stroke="#000" stroke-width="1.5"/>
<polyline points="9.2,465.0 29.7,465.0" fill="none" stroke="#000" stroke-width="1.4" />
<polyline points="74.7,448.1 87.0,459.4" fill="none" stroke="#000" stroke-width="1.0" />
<polyline points="78.4,451.5 85.2,457.7" fill="none" stroke="#000" stroke-width="2.4" />
<polyline points="74.7,454.2 87.0,465.5" fill="none" stroke="#000" stroke-width="1.0" />
<polyline points="78.4,457.6 85.2,463.8" fill="none" stroke="#000" stroke-width="2.4" />
<polyline points="93.0,431.7 93.0,450.2" fill="none" stroke="#000" stroke-width="1.0" />
<rect x="89.5" y="450.2" width="7.1" height="21.8" fill="#fff" stroke="#000" stroke-width="1.25"/>
<polyline points="93.0,472.0 93.0,574.0" fill="none" stroke="#000" stroke-width="1.0" stroke-dasharray="5 1.2"/>
<circle cx="92.8" cy="556.7" r="3.1" fill="#000"/>
<polyline points="92.8,556.7 117.3,556.7" fill="none" stroke="#000" stroke-width="1.8" />
<rect x="89.4" y="574.0" width="7.2" height="21.0" fill="#fff" stroke="#000" stroke-width="1.25"/>
<polyline points="93.0,595.0 93.0,625.7 130.3,625.9" fill="none" stroke="#000" stroke-width="1.0" />
<polyline points="130.3,626.0 340.7,626.3" fill="none" stroke="#000" stroke-width="1.6" />
<rect x="146.0" y="449.0" width="23.5" height="39.0" fill="none" stroke="#000" stroke-width="1.6"/>
<circle cx="158.4" cy="458.5" r="2.5" fill="#fff" stroke="#000" stroke-width="1.1"/>
<circle cx="158.4" cy="477.5" r="2.5" fill="#fff" stroke="#000" stroke-width="1.1"/>
<polyline points="149.2,460.3 156.6,476.7" fill="none" stroke="#000" stroke-width="1.2" />
<polyline points="158.4,431.7 158.4,456.0" fill="none" stroke="#000" stroke-width="1.3" />
<rect x="201.6" y="449.0" width="23.4" height="39.0" fill="none" stroke="#000" stroke-width="1.6"/>
<circle cx="214.3" cy="458.5" r="2.5" fill="#fff" stroke="#000" stroke-width="1.1"/>
<circle cx="214.3" cy="477.5" r="2.5" fill="#fff" stroke="#000" stroke-width="1.1"/>
<polyline points="204.8,460.3 212.5,476.7" fill="none" stroke="#000" stroke-width="1.2" />
<polyline points="214.3,431.7 214.3,456.0" fill="none" stroke="#000" stroke-width="1.3" />
<rect x="255.6" y="449.0" width="23.4" height="39.0" fill="none" stroke="#000" stroke-width="1.6"/>
<circle cx="267.8" cy="458.5" r="2.5" fill="#fff" stroke="#000" stroke-width="1.1"/>
<circle cx="267.8" cy="477.5" r="2.5" fill="#fff" stroke="#000" stroke-width="1.1"/>
<polyline points="258.8,460.3 266.0,476.7" fill="none" stroke="#000" stroke-width="1.2" />
<polyline points="267.8,431.7 267.8,456.0" fill="none" stroke="#000" stroke-width="1.3" />
<polyline points="158.4,479.4 158.4,506.2 267.8,506.6" fill="none" stroke="#000" stroke-width="1.3" />
<polyline points="214.3,479.4 214.3,506.4" fill="none" stroke="#000" stroke-width="1.3" />
<polyline points="267.8,479.4 267.8,521.7" fill="none" stroke="#000" stroke-width="1.3" />
<circle cx="214.3" cy="506.4" r="3.1" fill="#000"/>
<circle cx="267.8" cy="506.6" r="3.1" fill="#000"/>
<polyline points="146.0,467.6 130.3,467.6 130.3,539.3" fill="none" stroke="#000" stroke-width="1.8" />
<polyline points="201.6,467.6 185.8,467.6 185.8,573.7" fill="none" stroke="#000" stroke-width="1.5" />
<polyline points="255.6,467.6 240.0,467.6 240.0,554.0" fill="none" stroke="#000" stroke-width="1.3" />
<circle cx="130.3" cy="518.5" r="3.1" fill="#000"/>
<circle cx="185.8" cy="518.8" r="3.1" fill="#000"/>
<circle cx="240.0" cy="519.0" r="3.1" fill="#000"/>
<rect x="117.4" y="539.3" width="24.1" height="38.3" fill="none" stroke="#000" stroke-width="1.6"/>
<circle cx="130.3" cy="548.8" r="2.5" fill="#fff" stroke="#000" stroke-width="1.1"/>
<circle cx="130.3" cy="567.1" r="2.5" fill="#fff" stroke="#000" stroke-width="1.1"/>
<polyline points="120.6,550.6 128.5,566.3" fill="none" stroke="#000" stroke-width="1.2" />
<polyline points="130.3,539.3 130.3,546.3" fill="none" stroke="#000" stroke-width="1.3" />
<polyline points="130.3,569.6 130.3,626.0" fill="none" stroke="#000" stroke-width="1.9" />
<circle cx="130.3" cy="626.0" r="3.1" fill="#000"/>
<polyline points="179.0,573.7 193.4,573.7" fill="none" stroke="#000" stroke-width="1.7" />
<polyline points="179.0,579.7 193.4,579.7" fill="none" stroke="#000" stroke-width="1.7" />
<polyline points="185.8,579.7 185.8,626.0" fill="none" stroke="#000" stroke-width="1.5" />
<circle cx="185.8" cy="626.1" r="3.1" fill="#000"/>
<polyline points="188.6,563.0 196.6,563.0" fill="none" stroke="#000" stroke-width="1.5" />
<polyline points="192.6,559.0 192.6,567.0" fill="none" stroke="#000" stroke-width="1.5" />
<rect x="236.7" y="554.0" width="6.5" height="21.0" fill="#fff" stroke="#000" stroke-width="1.25"/>
<polyline points="240.0,575.0 240.0,626.0" fill="none" stroke="#000" stroke-width="1.5" />
<circle cx="240.0" cy="626.2" r="3.1" fill="#000"/>
<rect x="264.4" y="521.7" width="6.7" height="20.0" fill="#fff" stroke="#000" stroke-width="1.25"/>
<polyline points="267.8,541.7 267.8,561.6 340.7,561.6 340.7,626.3" fill="none" stroke="#000" stroke-width="1.1" />
<polyline points="309.3,431.7 309.3,459.3" fill="none" stroke="#000" stroke-width="1.3" />
<polyline points="302.0,459.3 315.7,459.3" fill="none" stroke="#000" stroke-width="1.7" />
<polyline points="302.0,466.7 315.7,466.7" fill="none" stroke="#000" stroke-width="1.7" />
<polyline points="309.3,466.7 309.3,506.7" fill="none" stroke="#000" stroke-width="1.3" />
<polyline points="309.3,506.7 309.3,626.3" fill="none" stroke="#000" stroke-width="2.1" />
<circle cx="309.3" cy="506.7" r="3.1" fill="#000"/>
<circle cx="309.3" cy="626.3" r="3.1" fill="#000"/>
<polyline points="312.1,448.3 320.1,448.3" fill="none" stroke="#000" stroke-width="1.5" />
<polyline points="316.1,444.3 316.1,452.3" fill="none" stroke="#000" stroke-width="1.5" />
<polyline points="309.3,506.8 404.8,506.8 404.8,432.7" fill="none" stroke="#000" stroke-width="1.2" />
<polygon points="352.8,432.7 379.5,404.7 404.8,432.7 379.5,461.5" fill="#fff" stroke="#000" stroke-width="1.1"/>
<polyline points="368.0,432.7 390.7,432.7" fill="none" stroke="#000" stroke-width="1.0" />
<polyline points="372.5,426.8 372.5,439.3" fill="none" stroke="#000" stroke-width="1.3" />
<polygon points="372.8,432.7 384.0,427.0 384.0,439.0" fill="#fff" stroke="#000" stroke-width="1.1"/>
<polyline points="379.5,404.7 469.7,404.7" fill="none" stroke="#000" stroke-width="1.8" />
<polyline points="469.7,404.7 469.7,420.3" fill="none" stroke="#000" stroke-width="1.2" />
<polyline points="379.5,461.5 469.7,461.5 469.7,449.7" fill="none" stroke="#000" stroke-width="1.0" stroke-dasharray="7 1"/>
<path d="M469.7,420.3 C477.0,420.3 477.0,427.6 469.7,427.6 C477.0,427.6 477.0,435.0 469.7,435.0 C477.0,435.0 477.0,442.4 469.7,442.4 C477.0,442.4 477.0,449.7 469.7,449.7" fill="none" stroke="#000" stroke-width="1.3"/>
<polyline points="481.0,420.3 481.0,450.7" fill="none" stroke="#000" stroke-width="3.9" />
<path d="M492.8,420.3 C484.5,420.3 484.5,427.6 492.8,427.6 C484.5,427.6 484.5,435.0 492.8,435.0 C484.5,435.0 484.5,442.4 492.8,442.4 C484.5,442.4 484.5,449.7 492.8,449.7" fill="none" stroke="#000" stroke-width="1.3"/>
<polyline points="492.8,420.3 492.8,404.7 519.6,404.7" fill="none" stroke="#000" stroke-width="1.9" />
<polyline points="519.6,404.7 588.7,404.9" fill="none" stroke="#000" stroke-width="1.2" />
<polyline points="492.8,449.7 492.8,461.9 588.4,461.9" fill="none" stroke="#000" stroke-width="1.1" />
<circle cx="519.3" cy="404.8" r="3.1" fill="#000"/>
<circle cx="592.2" cy="405.2" r="3.0" fill="#fff" stroke="#000" stroke-width="1.1"/>
<circle cx="569.3" cy="461.7" r="3.1" fill="#000"/>
<circle cx="591.7" cy="461.9" r="3.0" fill="#fff" stroke="#000" stroke-width="1.1"/>
<polyline points="519.3,404.7 519.3,485.0" fill="none" stroke="#000" stroke-width="1.2" />
<circle cx="519.2" cy="495.7" r="10.6" fill="#fff" stroke="#000" stroke-width="1.5"/>
<polyline points="511.7,488.2 526.7,503.2" fill="none" stroke="#000" stroke-width="1.3" />
<polyline points="526.7,488.2 511.7,503.2" fill="none" stroke="#000" stroke-width="1.3" />
<polyline points="519.3,506.3 519.3,573.5" fill="none" stroke="#000" stroke-width="1.2" />
<circle cx="518.9" cy="563.7" r="3.1" fill="#000"/>
<polyline points="569.3,461.7 569.3,627.0 459.6,627.0 459.6,616.4" fill="none" stroke="#000" stroke-width="1.3" />
<polyline points="518.5,587.0 518.5,627.0" fill="none" stroke="#000" stroke-width="1.0" stroke-dasharray="4 1.5"/>
<circle cx="518.5" cy="627.0" r="3.1" fill="#000"/>
<rect x="323.4" y="576.3" width="105.9" height="40.5" fill="none" stroke="#000" stroke-width="1.3"/>
<polygon points="334.2,588.3 347.2,588.3 340.7,602.0" fill="#fff" stroke="#000" stroke-width="1.25"/>
<polyline points="340.7,588.3 340.7,602.0" fill="none" stroke="#000" stroke-width="1.25" />
<polyline points="333.9,602.6 347.5,602.6" fill="none" stroke="#000" stroke-width="1.7" />
<polyline points="350.7,592.5 358.5,599.0" fill="none" stroke="#000" stroke-width="1.1" />
<polyline points="353.0,594.5 357.3,598.0" fill="none" stroke="#000" stroke-width="3.0" />
<polyline points="350.3,600.5 358.5,607.5" fill="none" stroke="#000" stroke-width="1.1" />
<polyline points="352.8,602.6 357.3,606.5" fill="none" stroke="#000" stroke-width="3.0" />
<polyline points="394.0,588.5 421.0,588.5" fill="none" stroke="#000" stroke-width="1.2" />
<polyline points="394.0,601.8 421.0,601.8" fill="none" stroke="#000" stroke-width="1.2" />
<polygon points="394.8,588.5 407.5,588.5 401.1,601.8" fill="#fff" stroke="#000" stroke-width="1.2"/>
<polygon points="407.5,601.8 420.5,601.8 414.0,588.5" fill="#fff" stroke="#000" stroke-width="1.2"/>
<polyline points="407.7,588.5 407.7,563.4 444.5,563.4" fill="none" stroke="#000" stroke-width="1.4" />
<rect x="444.5" y="560.0" width="20.5" height="7.3" fill="#fff" stroke="#000" stroke-width="1.25"/>
<polyline points="465.0,563.5 518.5,563.7" fill="none" stroke="#000" stroke-width="1.2" />
<polyline points="407.7,601.8 407.7,626.8 441.0,626.8 441.0,579.5 498.6,579.5 498.6,611.6 518.0,590.0" fill="none" stroke="#000" stroke-width="1.2" />
<circle cx="459.6" cy="579.5" r="3.1" fill="#000"/>
<polyline points="459.6,579.5 459.6,595.4" fill="none" stroke="#000" stroke-width="1.25" />
<rect x="456.0" y="595.4" width="8.0" height="21.0" fill="#fff" stroke="#000" stroke-width="1.25"/>
<polyline points="505.5,573.6 532.5,573.6" fill="none" stroke="#000" stroke-width="1.3" />
<polyline points="505.5,587.2 532.5,587.2" fill="none" stroke="#000" stroke-width="1.3" />
<polygon points="506.3,573.6 518.2,573.6 512.2,587.2" fill="#fff" stroke="#000" stroke-width="1.3"/>
<polygon points="518.2,587.2 532.0,587.2 525.1,573.6" fill="#fff" stroke="#000" stroke-width="1.3"/>
<text x="58.5" y="423.5" font-size="17.2" font-weight="bold" textLength="6.9" lengthAdjust="spacingAndGlyphs" >A</text>
<text x="66.5" y="423.5" font-size="17.2" font-weight="bold" >:</text>
<text x="83.0" y="423.8" font-size="17.2" font-weight="bold" textLength="8.2" lengthAdjust="spacingAndGlyphs" >C</text>
<text x="91.7" y="423.8" font-size="17.2" font-weight="bold" textLength="8.2" lengthAdjust="spacingAndGlyphs" >D</text>
<text x="100.5" y="423.8" font-size="17.2" font-weight="bold" textLength="8.2" lengthAdjust="spacingAndGlyphs" >4</text>
<text x="109.2" y="423.8" font-size="17.2" font-weight="bold" textLength="8.2" lengthAdjust="spacingAndGlyphs" >0</text>
<text x="117.9" y="423.8" font-size="17.2" font-weight="bold" textLength="8.2" lengthAdjust="spacingAndGlyphs" >6</text>
<text x="126.7" y="423.8" font-size="17.2" font-weight="bold" textLength="8.2" lengthAdjust="spacingAndGlyphs" >6</text>
<text x="135.4" y="423.8" font-size="17.2" font-weight="bold" textLength="8.2" lengthAdjust="spacingAndGlyphs" >U</text>
<text x="144.2" y="423.8" font-size="17.2" font-weight="bold" textLength="8.2" lengthAdjust="spacingAndGlyphs" >B</text>
<text x="35.5" y="461.5" font-size="17.2" font-weight="bold" textLength="7.6" lengthAdjust="spacingAndGlyphs" >K</text>
<text x="43.6" y="461.5" font-size="17.2" font-weight="bold" textLength="7.6" lengthAdjust="spacingAndGlyphs" >D</text>
<text x="34.0" y="494.0" font-size="17.2" font-weight="bold" textLength="7.2" lengthAdjust="spacingAndGlyphs" >R</text>
<text x="41.8" y="494.0" font-size="17.2" font-weight="bold" textLength="7.2" lengthAdjust="spacingAndGlyphs" >1</text>
<text x="34.0" y="508.5" font-size="17.2" font-weight="bold" textLength="7.2" lengthAdjust="spacingAndGlyphs" >1</text>
<text x="41.8" y="508.5" font-size="17.2" font-weight="bold" textLength="7.2" lengthAdjust="spacingAndGlyphs" >k</text>
<text x="100.5" y="477.4" font-size="17.2" font-weight="bold" textLength="8.2" lengthAdjust="spacingAndGlyphs" >R</text>
<text x="108.8" y="482.0" font-size="13" font-weight="bold" textLength="7.0" lengthAdjust="spacingAndGlyphs" >L</text>
<text x="149.8" y="445.2" font-size="17.2" font-weight="bold" textLength="4.5" lengthAdjust="spacingAndGlyphs" >1</text>
<text x="165.2" y="446.0" font-size="17.2" font-weight="bold" textLength="7.2" lengthAdjust="spacingAndGlyphs" >S</text>
<text x="173.0" y="446.0" font-size="17.2" font-weight="bold" textLength="7.2" lengthAdjust="spacingAndGlyphs" >1</text>
<text x="199.8" y="445.2" font-size="17.2" font-weight="bold" textLength="5.0" lengthAdjust="spacingAndGlyphs" >1</text>
<text x="205.2" y="445.2" font-size="17.2" font-weight="bold" textLength="5.0" lengthAdjust="spacingAndGlyphs" >1</text>
<text x="220.8" y="446.0" font-size="17.2" font-weight="bold" textLength="7.6" lengthAdjust="spacingAndGlyphs" >S</text>
<text x="228.8" y="446.0" font-size="17.2" font-weight="bold" textLength="7.6" lengthAdjust="spacingAndGlyphs" >2</text>
<text x="253.6" y="445.2" font-size="17.2" font-weight="bold" textLength="7.2" lengthAdjust="spacingAndGlyphs" >9</text>
<text x="273.2" y="446.0" font-size="17.2" font-weight="bold" textLength="7.8" lengthAdjust="spacingAndGlyphs" >S</text>
<text x="281.5" y="446.0" font-size="17.2" font-weight="bold" textLength="7.8" lengthAdjust="spacingAndGlyphs" >3</text>
<text x="127.8" y="463.0" font-size="17.2" font-weight="bold" textLength="7.2" lengthAdjust="spacingAndGlyphs" >1</text>
<text x="135.5" y="463.0" font-size="17.2" font-weight="bold" textLength="7.2" lengthAdjust="spacingAndGlyphs" >3</text>
<text x="185.8" y="464.0" font-size="17.2" font-weight="bold" textLength="7.1" lengthAdjust="spacingAndGlyphs" >1</text>
<text x="193.3" y="464.0" font-size="17.2" font-weight="bold" textLength="7.1" lengthAdjust="spacingAndGlyphs" >2</text>
<text x="243.8" y="462.0" font-size="17.2" font-weight="bold" textLength="7.6" lengthAdjust="spacingAndGlyphs" >6</text>
<text x="149.1" y="502.4" font-size="17.2" font-weight="bold" textLength="6.9" lengthAdjust="spacingAndGlyphs" >2</text>
<text x="197.6" y="502.4" font-size="17.2" font-weight="bold" textLength="7.3" lengthAdjust="spacingAndGlyphs" >1</text>
<text x="205.4" y="502.4" font-size="17.2" font-weight="bold" textLength="7.3" lengthAdjust="spacingAndGlyphs" >0</text>
<text x="256.8" y="502.4" font-size="17.2" font-weight="bold" textLength="7.3" lengthAdjust="spacingAndGlyphs" >8</text>
<text x="118.5" y="535.0" font-size="17.2" font-weight="bold" textLength="7.2" lengthAdjust="spacingAndGlyphs" >3</text>
<text x="133.6" y="533.0" font-size="17.2" font-weight="bold" textLength="7.1" lengthAdjust="spacingAndGlyphs" >S</text>
<text x="141.2" y="533.0" font-size="17.2" font-weight="bold" textLength="7.1" lengthAdjust="spacingAndGlyphs" >4</text>
<text x="105.2" y="552.3" font-size="17.2" font-weight="bold" textLength="8.0" lengthAdjust="spacingAndGlyphs" >5</text>
<text x="119.8" y="591.7" font-size="17.2" font-weight="bold" textLength="7.0" lengthAdjust="spacingAndGlyphs" >4</text>
<text x="72.0" y="576.0" font-size="17.2" font-weight="bold" textLength="7.4" lengthAdjust="spacingAndGlyphs" >R</text>
<text x="79.8" y="576.0" font-size="17.2" font-weight="bold" textLength="7.4" lengthAdjust="spacingAndGlyphs" >2</text>
<text x="54.2" y="593.3" font-size="17.2" font-weight="bold" textLength="7.9" lengthAdjust="spacingAndGlyphs" >1</text>
<text x="62.6" y="593.3" font-size="17.2" font-weight="bold" textLength="7.9" lengthAdjust="spacingAndGlyphs" >0</text>
<text x="71.0" y="593.3" font-size="17.2" font-weight="bold" textLength="7.9" lengthAdjust="spacingAndGlyphs" >0</text>
<text x="79.4" y="593.3" font-size="17.2" font-weight="bold" textLength="7.9" lengthAdjust="spacingAndGlyphs" >k</text>
<text x="161.2" y="581.7" font-size="17.2" font-weight="bold" textLength="7.5" lengthAdjust="spacingAndGlyphs" >C</text>
<text x="169.2" y="581.7" font-size="17.2" font-weight="bold" textLength="7.5" lengthAdjust="spacingAndGlyphs" >1</text>
<text x="196.9" y="590.5" font-size="17.2" font-weight="bold" textLength="7.6" lengthAdjust="spacingAndGlyphs" >2</text>
<text x="205.0" y="590.5" font-size="17.2" font-weight="bold" textLength="7.6" lengthAdjust="spacingAndGlyphs" >2</text>
<text x="213.2" y="590.5" font-size="17.2" font-weight="bold" textLength="7.6" lengthAdjust="spacingAndGlyphs" >0</text>
<text x="225.8" y="589.5" font-size="14.5" font-weight="bold" textLength="7.5" lengthAdjust="spacingAndGlyphs" >µ</text>
<text x="247.6" y="567.0" font-size="17.2" font-weight="bold" textLength="7.6" lengthAdjust="spacingAndGlyphs" >R</text>
<text x="255.7" y="567.0" font-size="17.2" font-weight="bold" textLength="7.6" lengthAdjust="spacingAndGlyphs" >3</text>
<text x="247.6" y="582.3" font-size="17.2" font-weight="bold" textLength="8.2" lengthAdjust="spacingAndGlyphs" >2</text>
<text x="256.8" y="582.3" font-size="17.2" font-weight="bold" >.</text>
<text x="264.9" y="582.3" font-size="17.2" font-weight="bold" textLength="8.2" lengthAdjust="spacingAndGlyphs" >2</text>
<text x="273.6" y="582.3" font-size="17.2" font-weight="bold" textLength="8.2" lengthAdjust="spacingAndGlyphs" >M</text>
<text x="276.2" y="531.0" font-size="17.2" font-weight="bold" textLength="7.5" lengthAdjust="spacingAndGlyphs" >R</text>
<text x="284.2" y="531.0" font-size="17.2" font-weight="bold" textLength="7.5" lengthAdjust="spacingAndGlyphs" >4</text>
<text x="275.2" y="546.7" font-size="17.2" font-weight="bold" textLength="7.2" lengthAdjust="spacingAndGlyphs" >2</text>
<text x="282.9" y="546.7" font-size="17.2" font-weight="bold" textLength="7.2" lengthAdjust="spacingAndGlyphs" >k</text>
<text x="276.9" y="406.7" font-size="17.2" font-weight="bold" textLength="7.1" lengthAdjust="spacingAndGlyphs" >V</text>
<text x="284.6" y="406.7" font-size="17.2" font-weight="bold" textLength="7.1" lengthAdjust="spacingAndGlyphs" >D</text>
<text x="292.1" y="406.7" font-size="17.2" font-weight="bold" textLength="7.1" lengthAdjust="spacingAndGlyphs" >I</text>
<text x="319.8" y="406.7" font-size="17.2" font-weight="bold" textLength="7.8" lengthAdjust="spacingAndGlyphs" >V</text>
<text x="328.0" y="406.7" font-size="17.2" font-weight="bold" textLength="7.8" lengthAdjust="spacingAndGlyphs" >D</text>
<text x="336.3" y="406.7" font-size="17.2" font-weight="bold" textLength="7.8" lengthAdjust="spacingAndGlyphs" >4</text>
<path d="M301.5,401.5 q4,-4.5 8.5,-1 t8.5,-1" fill="none" stroke="#000" stroke-width="1.4"/>
<text x="275.2" y="424.0" font-size="17.2" font-weight="bold" textLength="7.6" lengthAdjust="spacingAndGlyphs" >1</text>
<text x="283.3" y="424.0" font-size="17.2" font-weight="bold" textLength="7.6" lengthAdjust="spacingAndGlyphs" >N</text>
<text x="291.4" y="424.0" font-size="17.2" font-weight="bold" textLength="7.6" lengthAdjust="spacingAndGlyphs" >4</text>
<text x="299.5" y="424.0" font-size="17.2" font-weight="bold" textLength="7.6" lengthAdjust="spacingAndGlyphs" >0</text>
<text x="307.6" y="424.0" font-size="17.2" font-weight="bold" textLength="7.6" lengthAdjust="spacingAndGlyphs" >0</text>
<text x="315.7" y="424.0" font-size="17.2" font-weight="bold" textLength="7.6" lengthAdjust="spacingAndGlyphs" >1</text>
<text x="343.2" y="424.0" font-size="17.2" font-weight="bold" textLength="8.2" lengthAdjust="spacingAndGlyphs" >4</text>
<polyline points="327.0,413.5 338.0,423.5" fill="none" stroke="#000" stroke-width="1.3" />
<polyline points="338.0,413.5 327.0,423.5" fill="none" stroke="#000" stroke-width="1.3" />
<text x="319.6" y="470.5" font-size="17.2" font-weight="bold" textLength="7.6" lengthAdjust="spacingAndGlyphs" >2</text>
<text x="327.6" y="470.5" font-size="17.2" font-weight="bold" textLength="7.6" lengthAdjust="spacingAndGlyphs" >2</text>
<text x="335.7" y="470.5" font-size="17.2" font-weight="bold" textLength="7.6" lengthAdjust="spacingAndGlyphs" >0</text>
<text x="348.2" y="469.5" font-size="14.5" font-weight="bold" textLength="7.5" lengthAdjust="spacingAndGlyphs" >µ</text>
<text x="320.2" y="486.7" font-size="17.2" font-weight="bold" textLength="7.2" lengthAdjust="spacingAndGlyphs" >1</text>
<text x="327.9" y="486.7" font-size="17.2" font-weight="bold" textLength="7.2" lengthAdjust="spacingAndGlyphs" >6</text>
<text x="335.6" y="486.7" font-size="17.2" font-weight="bold" textLength="7.2" lengthAdjust="spacingAndGlyphs" >V</text>
<text x="430.8" y="449.2" font-size="17.2" font-weight="bold" textLength="8.5" lengthAdjust="spacingAndGlyphs" >9</text>
<text x="439.8" y="449.2" font-size="17.2" font-weight="bold" textLength="8.5" lengthAdjust="spacingAndGlyphs" >V</text>
<path d="M413.5,444 q4,-4.5 8,-1 t8,-1" fill="none" stroke="#000" stroke-width="1.4"/>
<text x="564.2" y="438.3" font-size="17.2" font-weight="bold" textLength="7.9" lengthAdjust="spacingAndGlyphs" >2</text>
<text x="572.6" y="438.3" font-size="17.2" font-weight="bold" textLength="7.9" lengthAdjust="spacingAndGlyphs" >2</text>
<text x="581.0" y="438.3" font-size="17.2" font-weight="bold" textLength="7.9" lengthAdjust="spacingAndGlyphs" >0</text>
<text x="589.4" y="438.3" font-size="17.2" font-weight="bold" textLength="7.9" lengthAdjust="spacingAndGlyphs" >V</text>
<path d="M547,433 q4,-4.5 8,-1 t8,-1" fill="none" stroke="#000" stroke-width="1.4"/>
<text x="536.2" y="500.0" font-size="17.2" font-weight="bold" textLength="8.0" lengthAdjust="spacingAndGlyphs" >H</text>
<text x="368.6" y="549.3" font-size="17.2" font-weight="bold" textLength="7.6" lengthAdjust="spacingAndGlyphs" >B</text>
<text x="376.6" y="549.3" font-size="17.2" font-weight="bold" textLength="7.6" lengthAdjust="spacingAndGlyphs" >6</text>
<text x="347.6" y="569.3" font-size="17.2" font-weight="bold" textLength="8.0" lengthAdjust="spacingAndGlyphs" >M</text>
<text x="356.0" y="569.3" font-size="17.2" font-weight="bold" textLength="8.0" lengthAdjust="spacingAndGlyphs" >O</text>
<text x="364.5" y="569.3" font-size="17.2" font-weight="bold" textLength="8.0" lengthAdjust="spacingAndGlyphs" >C</text>
<text x="373.0" y="569.3" font-size="17.2" font-weight="bold" textLength="8.0" lengthAdjust="spacingAndGlyphs" >3</text>
<text x="381.5" y="569.3" font-size="17.2" font-weight="bold" textLength="8.0" lengthAdjust="spacingAndGlyphs" >0</text>
<text x="390.0" y="569.3" font-size="17.2" font-weight="bold" textLength="8.0" lengthAdjust="spacingAndGlyphs" >4</text>
<text x="398.5" y="569.3" font-size="17.2" font-weight="bold" textLength="8.0" lengthAdjust="spacingAndGlyphs" >1</text>
<text x="440.6" y="542.7" font-size="17.2" font-weight="bold" textLength="7.8" lengthAdjust="spacingAndGlyphs" >5</text>
<text x="448.9" y="542.7" font-size="17.2" font-weight="bold" textLength="7.8" lengthAdjust="spacingAndGlyphs" >6</text>
<text x="440.6" y="557.7" font-size="17.2" font-weight="bold" textLength="7.1" lengthAdjust="spacingAndGlyphs" >1</text>
<text x="448.1" y="557.7" font-size="17.2" font-weight="bold" textLength="7.1" lengthAdjust="spacingAndGlyphs" >W</text>
<text x="468.2" y="603.5" font-size="17.2" font-weight="bold" textLength="8.0" lengthAdjust="spacingAndGlyphs" >3</text>
<text x="476.8" y="603.5" font-size="17.2" font-weight="bold" textLength="8.0" lengthAdjust="spacingAndGlyphs" >3</text>
<text x="485.2" y="603.5" font-size="17.2" font-weight="bold" textLength="8.0" lengthAdjust="spacingAndGlyphs" >0</text>
<text x="468.2" y="618.5" font-size="17.2" font-weight="bold" textLength="7.8" lengthAdjust="spacingAndGlyphs" >1</text>
<text x="476.5" y="618.5" font-size="17.2" font-weight="bold" textLength="7.8" lengthAdjust="spacingAndGlyphs" >W</text>
<text x="542.0" y="575.0" font-size="17.2" font-weight="bold" textLength="7.9" lengthAdjust="spacingAndGlyphs" >V</text>
<text x="550.4" y="575.0" font-size="17.2" font-weight="bold" textLength="7.9" lengthAdjust="spacingAndGlyphs" >T</text>
<text x="538.5" y="589.0" font-size="17.2" font-weight="bold" textLength="7.9" lengthAdjust="spacingAndGlyphs" >3</text>
<text x="546.9" y="589.0" font-size="17.2" font-weight="bold" textLength="7.9" lengthAdjust="spacingAndGlyphs" >A</text>
<text x="530.8" y="606.5" font-size="17.2" font-weight="bold" textLength="7.9" lengthAdjust="spacingAndGlyphs" >4</text>
<text x="539.1" y="606.5" font-size="17.2" font-weight="bold" textLength="7.9" lengthAdjust="spacingAndGlyphs" >0</text>
<text x="547.5" y="606.5" font-size="17.2" font-weight="bold" textLength="7.9" lengthAdjust="spacingAndGlyphs" >0</text>
<text x="555.9" y="606.5" font-size="17.2" font-weight="bold" textLength="7.9" lengthAdjust="spacingAndGlyphs" >V</text>
<rect x="18.2" y="600.9" width="11.4" height="13.8" fill="#fff" stroke="#000" stroke-width="1.9"/>
<polyline points="23.6,601.9 19.9,606.7" fill="none" stroke="#000" stroke-width="1.5" />
<polyline points="22.6,603.8 27.6,603.8 20.2,611.2" fill="none" stroke="#000" stroke-width="1.5" />
<polyline points="22.1,605.8 28.1,610.6" fill="none" stroke="#000" stroke-width="1.5" />
<polyline points="23.4,609.6 25.5,610.9" fill="none" stroke="#000" stroke-width="1.5" />
<polyline points="22.6,612.2 26.0,613.4" fill="none" stroke="#000" stroke-width="1.5" />
<polyline points="18.1,614.6 18.1,616.0" fill="none" stroke="#000" stroke-width="1.6" />
<polyline points="29.7,614.6 29.7,616.0" fill="none" stroke="#000" stroke-width="1.6" />
<text x="33.0" y="615.0" font-size="17.2" font-weight="bold" textLength="8.1" lengthAdjust="spacingAndGlyphs" >6</text>
<polyline points="8.0,414.6 17.5,414.6" fill="none" stroke="#000" stroke-width="2.1" />
<polyline points="13.0,414.6 8.0,423.0" fill="none" stroke="#000" stroke-width="2.1" />
<rect x="10.3" y="420.3" width="5.4" height="7.2" fill="none" stroke="#000" stroke-width="1.6"/>
<polyline points="19.5,412.8 20.5,415.5" fill="none" stroke="#000" stroke-width="2.1" />
<polyline points="25.5,412.8 24.5,415.5" fill="none" stroke="#000" stroke-width="2.1" />
<polyline points="17.5,417.0 27.5,417.0" fill="none" stroke="#000" stroke-width="2.1" />
<polyline points="20.5,418.0 18.5,422.0 21.0,422.0 18.0,426.5 22.5,426.5" fill="none" stroke="#000" stroke-width="1.5" />
<polyline points="25.5,418.0 23.5,422.0 26.0,422.0 23.0,426.5 27.5,426.5" fill="none" stroke="#000" stroke-width="1.5" />
<polyline points="17.5,428.2 27.5,428.2" fill="none" stroke="#000" stroke-width="1.4" />
<polyline points="31.5,413.0 28.5,417.5" fill="none" stroke="#000" stroke-width="2.1" />
<polyline points="29.5,416.5 33.5,416.5" fill="none" stroke="#000" stroke-width="1.5" />
<polyline points="28.3,420.5 33.5,420.5" fill="none" stroke="#000" stroke-width="2.1" />
<polyline points="28.3,424.0 33.5,424.0" fill="none" stroke="#000" stroke-width="1.4" />
<polyline points="30.8,417.0 30.8,428.5 33.3,426.5" fill="none" stroke="#000" stroke-width="2.1" />
<polyline points="36.0,413.5 34.5,417.5" fill="none" stroke="#000" stroke-width="2.1" />
<polyline points="34.5,417.3 40.5,417.3" fill="none" stroke="#000" stroke-width="2.1" />
<polyline points="33.8,421.8 41.3,421.8" fill="none" stroke="#000" stroke-width="2.1" />
<polyline points="37.6,413.0 37.6,422.0 34.0,428.8" fill="none" stroke="#000" stroke-width="2.1" />
<polyline points="37.8,422.0 41.3,428.8" fill="none" stroke="#000" stroke-width="2.1" />
</svg>
</body></html>
